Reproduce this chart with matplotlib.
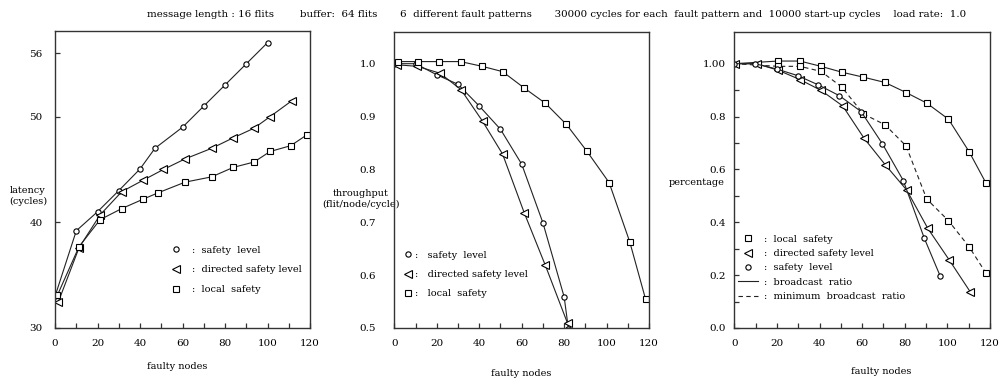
import numpy as np
import matplotlib
matplotlib.use("Agg")
import matplotlib.pyplot as plt
from matplotlib.lines import Line2D
from matplotlib.ticker import MultipleLocator, FixedLocator

plt.rcParams['font.family'] = ['DejaVu Serif']
plt.rcParams['font.size'] = 7

# ---- data ----
# latency (cycles) vs faulty nodes
lat_sl_x = [0, 10, 20, 30, 40, 47, 60, 70, 80, 90, 100]
lat_sl_y = [33.0, 39.2, 41.0, 43.0, 45.05, 47.0, 49.0, 51.0, 53.0, 55.0, 57.0]
lat_dsl_x = [1.6, 11.3, 21.2, 31.4, 41.6, 51, 61.2, 73.7, 83.9, 93.6, 101.2, 111.4]
lat_dsl_y = [32.5, 37.6, 40.7, 42.9, 44.0, 45.0, 46.0, 47.0, 48.0, 48.9, 50.0, 51.5]
lat_ls_x = [1.1, 11.3, 21.2, 31.4, 41.6, 48.6, 61.2, 73.7, 83.9, 93.6, 101.2, 110.9, 118.7]
lat_ls_y = [33.1, 37.7, 40.25, 41.3, 42.2, 42.8, 43.8, 44.3, 45.2, 45.7, 46.7, 47.25, 48.3]

# throughput (flit/node/cycle)
thr_sl_x = [0, 10, 20, 30, 40, 50, 60, 70, 80, 82]
thr_sl_y = [1.0, 1.0, 0.979, 0.961, 0.920, 0.876, 0.810, 0.699, 0.559, 0.499]
thr_dsl_x = [1.1, 10.8, 21.5, 31.4, 41.6, 51, 61.2, 71.1, 81.6]
thr_dsl_y = [0.998, 0.995, 0.982, 0.951, 0.891, 0.829, 0.718, 0.619, 0.509]
thr_ls_x = [1.6, 11, 21, 31.2, 41.4, 51, 61.2, 71.2, 81.1, 90.8, 101.2, 110.9, 118.4]
thr_ls_y = [1.004, 1.004, 1.004, 1.004, 0.995, 0.985, 0.954, 0.925, 0.885, 0.834, 0.775, 0.663, 0.554]

# percentage (broadcast ratio / minimum broadcast ratio)
pct_ls_x = [0, 20.6, 30.8, 40.7, 50.4, 60.6, 70.7, 80.6, 90.3, 100.5, 110.2, 118]
pct_ls_y = [1.0, 1.01, 1.01, 0.99, 0.968, 0.949, 0.929, 0.891, 0.851, 0.790, 0.667, 0.55]
pct_ls_min_x = [0, 20.6, 30.8, 40.7, 50.4, 60.6, 70.7, 80.6, 90.3, 100.5, 110.2, 118]
pct_ls_min_y = [1.0, 0.99, 0.99, 0.971, 0.912, 0.810, 0.769, 0.689, 0.488, 0.406, 0.307, 0.209]
pct_dsl_x = [0.5, 10.5, 20.7, 30.8, 40.7, 50.9, 60.9, 70.9, 80.9, 90.8, 100.9, 110.7]
pct_dsl_y = [1.0, 1.0, 0.975, 0.94, 0.899, 0.84, 0.718, 0.617, 0.522, 0.377, 0.257, 0.137]
pct_sl_x = [0, 9.7, 19.9, 29.7, 39.4, 49.3, 59.5, 69.5, 79.3, 89.2, 96.6]
pct_sl_y = [1.0, 1.0, 0.98, 0.955, 0.92, 0.879, 0.819, 0.697, 0.558, 0.339, 0.197]

title = ("message length : 16 flits        buffer:  64 flits       6  different fault patterns"
         "       30000 cycles for each  fault pattern and  10000 start-up cycles    load rate:  1.0")

LC = '#222222'
mk_o = dict(marker='o', ms=3.8, mfc='white', mec='black', mew=0.8)
mk_t = dict(marker='<', ms=5.8, mfc='white', mec='black', mew=0.8)
mk_s = dict(marker='s', ms=4.9, mfc='white', mec='black', mew=0.8)

fig = plt.figure(figsize=(9.99, 3.78), dpi=100)
ax1 = fig.add_axes([0.0551, 0.1323, 0.2553, 0.7857])
ax2 = fig.add_axes([0.3947, 0.1323, 0.2550, 0.7831])
ax3 = fig.add_axes([0.7350, 0.1323, 0.2560, 0.7831])

fig.text(0.557, 0.962, title, ha='center', va='center', fontsize=7.4)


def style(ax):
    for s in ax.spines.values():
        s.set_linewidth(1.0)
        s.set_color('#333333')
    ax.set_xlim(0, 120)
    ax.xaxis.set_major_locator(MultipleLocator(20))
    ax.xaxis.set_minor_locator(MultipleLocator(10))
    ax.tick_params(axis='both', which='both', direction='in', length=3.6,
                   width=0.9, color='#333333', labelsize=7.5)
    ax.tick_params(axis='x', pad=8)
    ax.tick_params(axis='y', right=False)


# ---- panel 1: latency ----
style(ax1)
ax1.plot(lat_sl_x, lat_sl_y, color=LC, lw=0.8, **mk_o)
ax1.plot(lat_dsl_x, lat_dsl_y, color=LC, lw=0.8, **mk_t)
ax1.plot(lat_ls_x, lat_ls_y, color=LC, lw=0.8, **mk_s)
ax1.set_ylim(30, 58.1)
ax1.set_yticks([30, 40, 50, 56])
ax1.tick_params(axis='y', pad=9)
ax1.set_xlabel('faulty nodes')
ax1.xaxis.set_label_coords(0.478, -0.114)
ax1.set_ylabel('latency\n(cycles)', rotation=0, ha='center', va='center')
ax1.yaxis.set_label_coords(-0.106, 0.444)
h1 = [Line2D([], [], ls='none', **mk_o), Line2D([], [], ls='none', **mk_t),
      Line2D([], [], ls='none', **mk_s)]
ax1.legend(h1, [':  safety  level', ':  directed safety level', ':  local  safety'],
           loc='upper left', bbox_to_anchor=(0.455, 0.277), frameon=False,
           borderpad=0, borderaxespad=0, handlelength=1.0, handletextpad=1.1,
           labelspacing=1.1, fontsize=7)

# ---- panel 2: throughput ----
style(ax2)
ax2.plot(thr_sl_x, thr_sl_y, color=LC, lw=0.8, **mk_o)
ax2.plot(thr_dsl_x, thr_dsl_y, color=LC, lw=0.8, **mk_t)
ax2.plot(thr_ls_x, thr_ls_y, color=LC, lw=0.8, **mk_s)
ax2.set_ylim(0.5, 1.06)
ax2.set_yticks(np.arange(0.5, 1.01, 0.1))
ax2.set_yticklabels(['0.5', '0.6', '0.7', '0.8', '0.9', '1.0'])
ax2.tick_params(axis='y', pad=13, length=0)
ax2.set_xlabel('faulty nodes')
ax2.xaxis.set_label_coords(0.5, -0.139)
ax2.set_ylabel('throughput\n(flit/node/cycle)', rotation=0, ha='center', va='center')
ax2.yaxis.set_label_coords(-0.131, 0.436)
ax2.legend(h1, [':   safety  level', ':   directed safety level', ':   local  safety'],
           loc='upper left', bbox_to_anchor=(0.034, 0.261), frameon=False,
           borderpad=0, borderaxespad=0, handlelength=1.0, handletextpad=0.2,
           labelspacing=1.05, fontsize=7)

# ---- panel 3: percentage ----
style(ax3)
ax3.plot(pct_ls_x, pct_ls_y, color=LC, lw=0.8, markevery=slice(1, None), **mk_s)
ax3.plot(pct_ls_min_x, pct_ls_min_y, color=LC, lw=0.8, ls=(0, (4, 3)),
         markevery=slice(1, None), **mk_s)
ax3.plot(pct_dsl_x, pct_dsl_y, color=LC, lw=0.8, **mk_t)
ax3.plot(pct_sl_x, pct_sl_y, color=LC, lw=0.8, **mk_o)
ax3.set_ylim(0, 1.12)
ax3.yaxis.set_major_locator(FixedLocator([0, 0.2, 0.4, 0.6, 0.8, 1.0]))
ax3.yaxis.set_minor_locator(FixedLocator([0.1, 0.3, 0.5, 0.7, 0.9]))
ax3.set_yticklabels(['0.0', '0.2', '0.4', '0.6', '0.8', '1.00'])
ax3.tick_params(axis='y', pad=6)
ax3.set_xlabel('faulty nodes')
ax3.xaxis.set_label_coords(0.576, -0.132)
ax3.set_ylabel('percentage', rotation=0, ha='center', va='center')
ax3.yaxis.set_label_coords(-0.146, 0.49)
h3 = [Line2D([], [], ls='none', **mk_s), Line2D([], [], ls='none', **mk_t),
      Line2D([], [], ls='none', **mk_o), Line2D([], [], color=LC, lw=0.8),
      Line2D([], [], color=LC, lw=0.8, ls=(0, (4, 3)))]
ax3.legend(h3, [':  local  safety', ':  directed safety level', ':  safety  level',
                ':  broadcast  ratio', ':  minimum  broadcast  ratio'],
           loc='upper left', bbox_to_anchor=(0.0145, 0.315), frameon=False,
           borderpad=0, borderaxespad=0, handlelength=2.1, handletextpad=0.6,
           labelspacing=0.55, fontsize=7)

fig.savefig('out.png', dpi=100)
